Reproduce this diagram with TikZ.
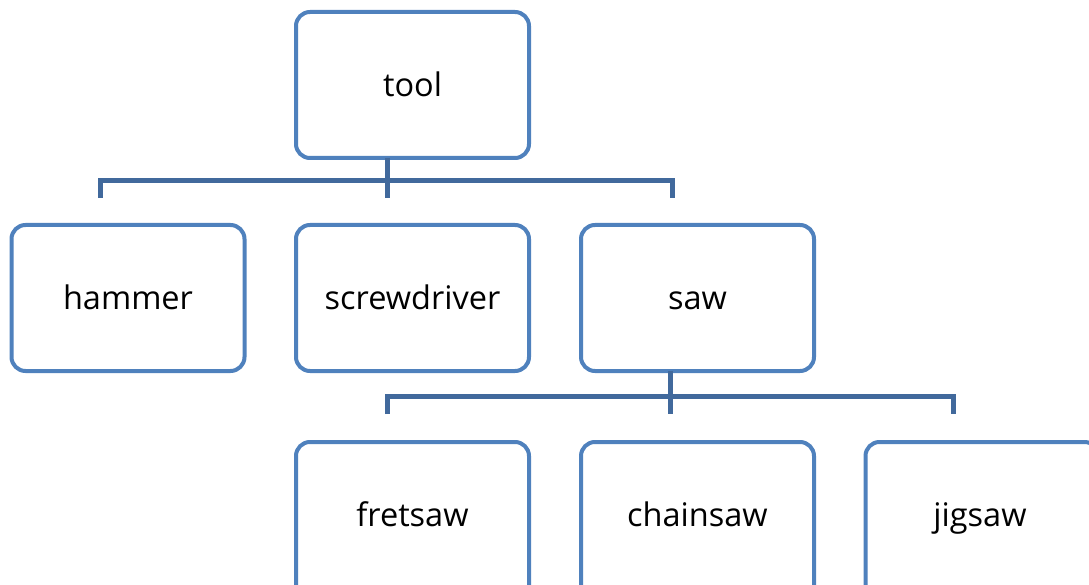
\documentclass[tikz,border=0pt]{standalone}
\usepackage{fontspec}
\setmainfont{Open Sans}
\definecolor{boxblue}{HTML}{4F81BD}
\definecolor{linkblue}{HTML}{41699C}
\begin{document}
\begin{tikzpicture}[x=1pt,y=-1pt,
  lbl/.style={font=\fontsize{32.5}{38}\selectfont, text=black, inner sep=0pt,
    text height=23pt, text depth=0pt},
  box/.style={lbl, draw=boxblue, line width=4pt, fill=white, rounded corners=14pt,
    minimum width=233pt, minimum height=146pt},
  link/.style={draw=linkblue, line width=5pt}]
\clip (0,0) rectangle (1089,585);
\useasboundingbox (0,0) rectangle (1089,585);
% nodes
\node[box] (tool) at (412.5,85) {tool};
\node[box] (hammer) at (128,298) {hammer};
\node[box] (screw) at (412.5,298) {screwdriver};
\node[box] (saw) at (697.5,298) {saw};
\node[box, minimum height=180pt] (fret) at (412.5,532) {};
\node[box, minimum height=180pt] (chain) at (697.5,532) {};
\node[box, minimum height=180pt] (jig) at (982,532) {};
\node[lbl] (tfret) at (412.5,515) {fretsaw};
\node[lbl] (tchain) at (697.5,515) {chainsaw};
\node[lbl] (tjig) at (980,515) {jigsaw};
% connector coordinates
\coordinate (t1) at (387,158);
\coordinate (t2) at (387,198);
\coordinate (j1) at (387,181);
\coordinate (h1) at (100,181);
\coordinate (h2) at (100,198);
\coordinate (s1) at (672,181);
\coordinate (s2) at (672,198);
\coordinate (a1) at (670,371);
\coordinate (a2) at (670,414);
\coordinate (k1) at (670,396);
\coordinate (f1) at (387,396);
\coordinate (f2) at (387,414);
\coordinate (g1) at (953,396);
\coordinate (g2) at (953,414);
\draw[link] (t1) -- (t2);
\draw[link] (h2) -- (h1) -- (s1) -- (s2);
\draw[link] (a1) -- (a2);
\draw[link] (f2) -- (f1) -- (g1) -- (g2);
\end{tikzpicture}
\end{document}
